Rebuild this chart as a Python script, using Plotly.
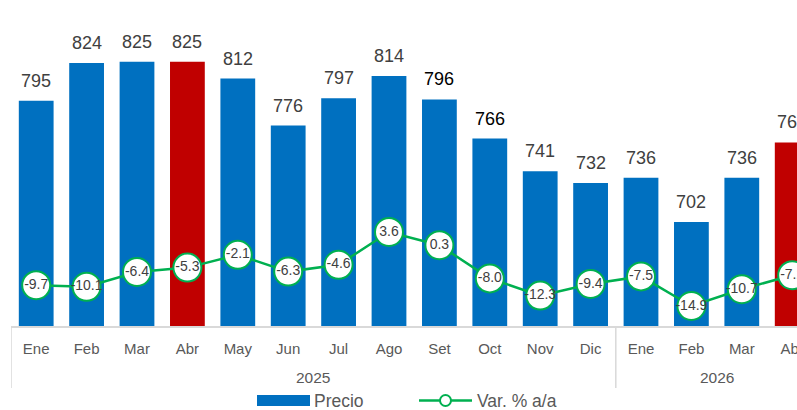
import plotly.graph_objects as go

months = ["Ene", "Feb", "Mar", "Abr", "May", "Jun", "Jul", "Ago", "Set", "Oct", "Nov", "Dic",
          "Ene", "Feb", "Mar", "Abr"]
years = ["2025", "2026"]
year_centers = [5.5, 13.5]
precio = [795, 824, 825, 825, 812, 776, 797, 814, 796, 766, 741, 732, 736, 702, 736, 763]
var_aa = [-9.7, -10.1, -6.4, -5.3, -2.1, -6.3, -4.6, 3.6, 0.3, -8.0, -12.3, -9.4, -7.5, -14.9, -10.7, -7.2]
highlight = [3, 15]
dark_labels = [8, 9]

BLUE = "#0070C0"
RED = "#C00000"
GREEN = "#00B050"
GRAY = "#595959"
FONT = "Liberation Sans, Arial, sans-serif"

W, H = 797, 410
ML, MR, MT, MB = 11, 0, 6, 84
PW = W - ML - MR
PH = H - MT - MB
STEP = 50.4

x = list(range(len(precio)))
bar_colors = [RED if i in highlight else BLUE for i in x]

fig = go.Figure()
fig.add_trace(go.Bar(
    x=x, y=precio, marker=dict(color=bar_colors, line=dict(width=0)),
    width=0.69, name="Precio", showlegend=False, yaxis="y"))
fig.add_trace(go.Scatter(
    x=x, y=var_aa, mode="lines+markers+text", yaxis="y2", name="Var. % a/a",
    line=dict(color=GREEN, width=2.5),
    marker=dict(size=28, color="white", line=dict(color=GREEN, width=2)),
    text=[f"{v:.1f}" for v in var_aa], textposition="middle center",
    textfont=dict(size=14, color="#404040", family=FONT),
    cliponaxis=False, showlegend=False))

annotations = []
for i, v in enumerate(precio):
    annotations.append(dict(
        x=i, y=v, xref="x", yref="y", text=str(v), showarrow=False,
        yanchor="bottom", yshift=8,
        font=dict(size=18, color="#000000" if i in dark_labels else "#404040", family=FONT)))


def px_to_paper_x(px):
    return (px - ML) / PW


def px_to_paper_y(py):
    return (H - MB - py) / PH


for yr, c in zip(years, year_centers):
    annotations.append(dict(
        x=c, y=px_to_paper_y(377), xref="x", yref="paper", text=yr, showarrow=False,
        yanchor="middle", font=dict(size=15.5, color=GRAY, family=FONT)))

# custom legend
annotations.append(dict(x=px_to_paper_x(312), y=px_to_paper_y(401), xref="paper", yref="paper",
                        text="Precio", showarrow=False, xanchor="left", yanchor="middle",
                        font=dict(size=17.5, color=GRAY, family=FONT)))
annotations.append(dict(x=px_to_paper_x(475), y=px_to_paper_y(401), xref="paper", yref="paper",
                        text="Var. % a/a", showarrow=False, xanchor="left", yanchor="middle",
                        font=dict(size=17.5, color=GRAY, family=FONT)))

shapes = []
for xb in [-0.5, 11.5]:
    shapes.append(dict(type="line", xref="x", yref="paper", x0=xb, x1=xb,
                       y0=0, y1=px_to_paper_y(388), line=dict(color="#D9D9D9", width=1.5)))
shapes.append(dict(type="rect", xref="paper", yref="paper",
                   x0=px_to_paper_x(257), x1=px_to_paper_x(310),
                   y0=px_to_paper_y(406), y1=px_to_paper_y(395),
                   fillcolor=BLUE, line=dict(width=0)))
shapes.append(dict(type="line", xref="paper", yref="paper",
                   x0=px_to_paper_x(419), x1=px_to_paper_x(472),
                   y0=px_to_paper_y(400.5), y1=px_to_paper_y(400.5),
                   line=dict(color=GREEN, width=2.5)))
shapes.append(dict(type="circle", xref="paper", yref="paper",
                   x0=px_to_paper_x(440), x1=px_to_paper_x(451),
                   y0=px_to_paper_y(406), y1=px_to_paper_y(395),
                   fillcolor="white", line=dict(color=GREEN, width=2)))

fig.update_layout(
    width=W, height=H, margin=dict(l=ML, r=MR, t=MT, b=MB, autoexpand=False),
    paper_bgcolor="white", plot_bgcolor="white",
    bargap=0.31, showlegend=False,
    font=dict(family=FONT),
    xaxis=dict(range=[-0.5, -0.5 + PW / STEP], tickmode="array", tickvals=x, ticktext=months,
               tickfont=dict(size=15, color=GRAY, family=FONT), showgrid=False, zeroline=False,
               showline=True, linecolor="#D9D9D9", linewidth=1.5, ticks="", ticklabelstandoff=8,
               ticklabeloverflow="allow", automargin=False),
    yaxis=dict(range=[622.2, 867.7], visible=False, showgrid=False, zeroline=False),
    yaxis2=dict(range=[-19.9, 60.1], overlaying="y", visible=False, showgrid=False, zeroline=False),
    annotations=annotations, shapes=shapes,
)

fig.write_html("out.html", config={"displayModeBar": False},
               post_script="document.body.style.margin='0';document.body.style.overflow='hidden';")
